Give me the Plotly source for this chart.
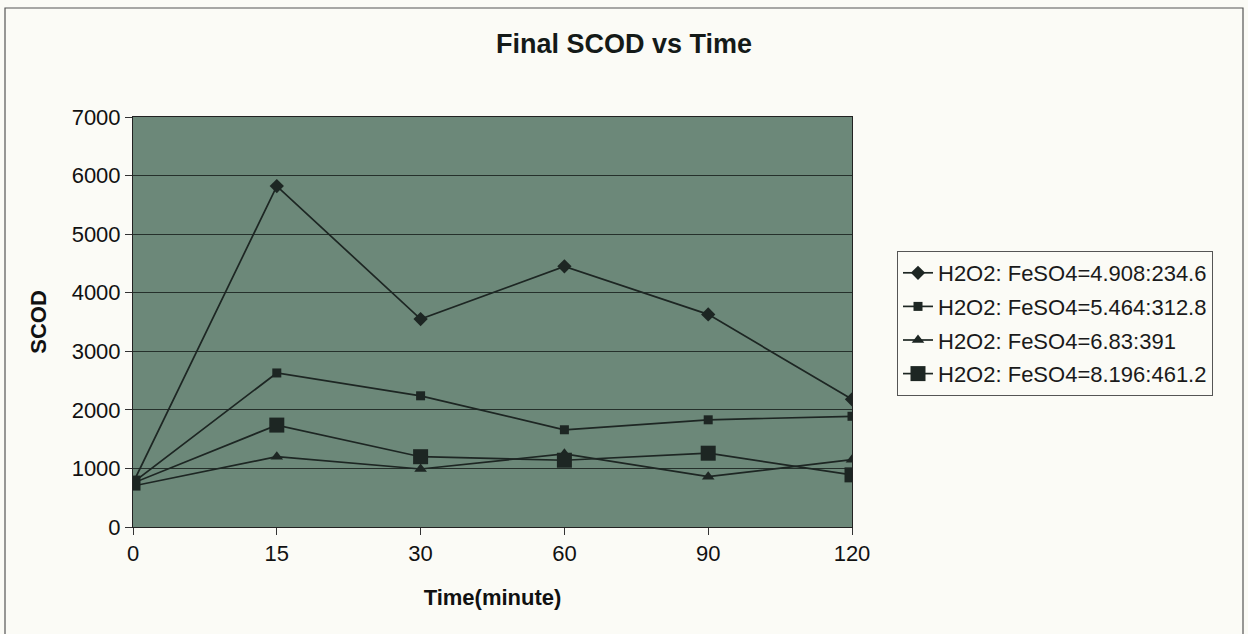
import plotly.graph_objects as go

times = ["0", "15", "30", "60", "90", "120"]
s1_name = "H2O2: FeSO4=4.908:234.6"
s1 = [750, 5820, 3550, 4450, 3630, 2180]
s2_name = "H2O2: FeSO4=5.464:312.8"
s2 = [760, 2630, 2240, 1660, 1830, 1890]
s3_name = "H2O2: FeSO4=6.83:391"
s3 = [700, 1200, 990, 1250, 860, 1150]
s4_name = "H2O2: FeSO4=8.196:461.2"
s4 = [750, 1740, 1200, 1140, 1260, 890]

ink = "#1d2623"
fig = go.Figure()
for i, (name, vals, sym, size) in enumerate([
    (s1_name, s1, "diamond", 11),
    (s2_name, s2, "square", 9),
    (s3_name, s3, "triangle-up", 11),
    (s4_name, s4, "square", 15),
]):
    fig.add_trace(go.Scatter(x=times, y=vals, name=name, mode="lines+markers",
                             legendgroup=f"g{i}",
                             line=dict(color=ink, width=1.7),
                             marker=dict(symbol=sym, size=size, color=ink)))

L, R, T, B = 133, 396, 117, 107
W, H = 1248, 634
pw, ph = W - L - R, H - T - B
fig.update_layout(
    width=W, height=H,
    margin=dict(l=L, r=R, t=T, b=B),
    paper_bgcolor="#fbfbf6", plot_bgcolor="#6c8879",
    font=dict(family="Liberation Sans, Arial, sans-serif", size=22, color="#111"),
    title=dict(text="<b>Final SCOD vs Time</b>", x=0.5, xanchor="center",
               y=1 - 44 / H, yanchor="middle", font=dict(size=27, color="#141a18")),
    xaxis=dict(type="category", title=dict(text="<b>Time(minute)</b>", standoff=24,
                                           font=dict(size=22)),
               showgrid=False, ticks="outside", ticklen=7, tickcolor="#333",
               showline=True, linecolor="#222", linewidth=1, mirror=True,
               range=[0, 5]),
    yaxis=dict(range=[0, 7000], dtick=1000,
               title=dict(text="<b>SCOD</b>", standoff=18, font=dict(size=22)),
               showgrid=True, gridcolor="#25302b", gridwidth=1.2,
               ticks="outside", ticklen=7, tickcolor="#333",
               showline=True, linecolor="#222", linewidth=1, mirror=True,
               zeroline=False),
    legend=dict(x=(897 - L) / pw, y=(H - B - 251) / ph, xanchor="left", yanchor="top",
                bordercolor="#555", borderwidth=1, bgcolor="rgba(0,0,0,0)",
                tracegroupgap=2,
                font=dict(size=22, color="#1a1a1a")),
    showlegend=True,
)
# outer chart frame
fig.add_shape(type="rect", xref="paper", yref="paper",
              x0=(5 - L) / pw, x1=(1243 - L) / pw,
              y0=(H - B - 660) / ph, y1=(H - B - 8) / ph,
              line=dict(color="#555", width=1.2), layer="below")
fig.write_html("out.html", config={"displayModeBar": False},
               post_script="document.body.style.margin='0';")
